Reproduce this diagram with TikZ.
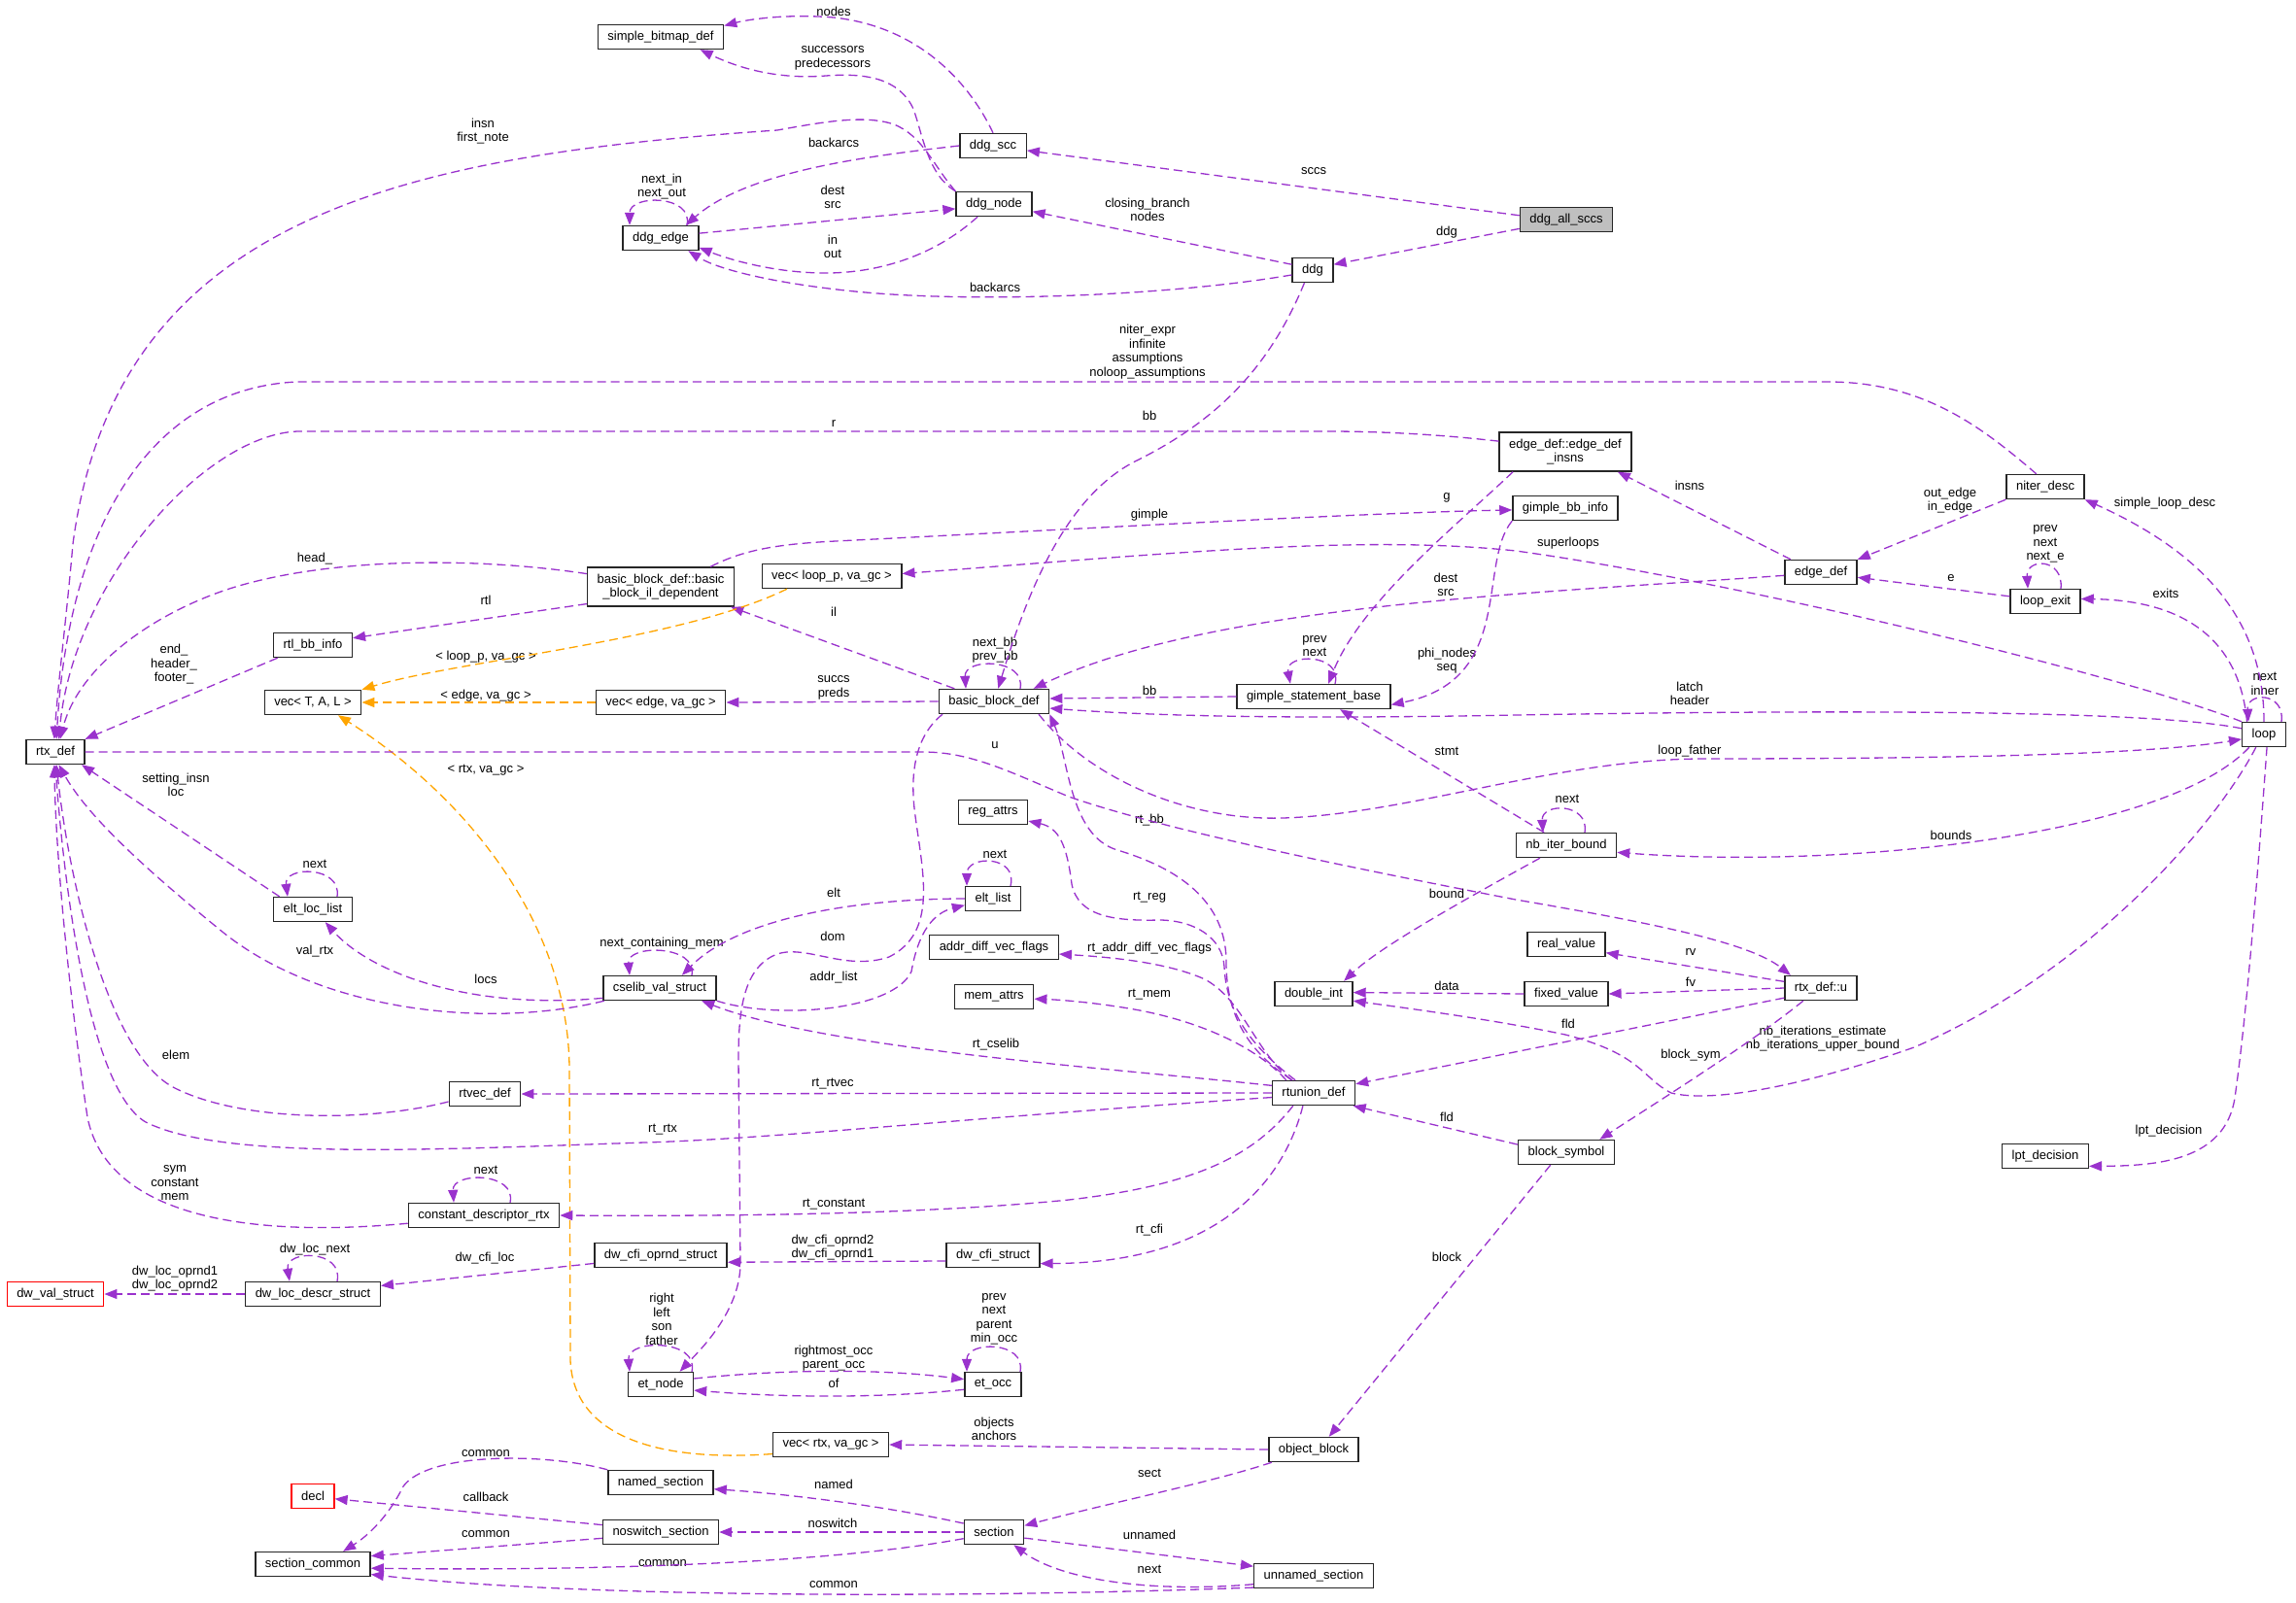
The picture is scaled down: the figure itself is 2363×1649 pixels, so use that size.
\documentclass[tikz,border=0pt]{standalone}
\usepackage{fontspec}
\setmainfont{Liberation Sans}
\usetikzlibrary{arrows.meta}
\definecolor{relc}{HTML}{9A32CD}
\definecolor{tmplc}{HTML}{FFA500}
\definecolor{boxline}{HTML}{262626}
\definecolor{mainfill}{HTML}{BFBFBF}
\definecolor{extline}{HTML}{FF0000}
\begin{document}
\begin{tikzpicture}[x=1pt, y=-1pt, font=\fontsize{13}{14.5}\selectfont,
  cls/.style={draw=boxline, line width=1.4pt, fill=white, minimum height=25pt, inner xsep=10pt, inner ysep=3pt},
  clsmain/.style={cls, fill=mainfill},
  clsext/.style={cls, draw=extline},
  lbl/.style={inner sep=0pt, align=center},
  rel/.style={relc, line width=1.3pt, dash pattern=on 9pt off 5pt, -{Triangle[length=13pt,width=10pt]}},
  tmpl/.style={rel, tmplc}]
  \fill[white] (0,0) rectangle (2363,1649);
  \useasboundingbox (0,0) rectangle (2363,1649);
  \foreach \nm/\x/\y/\txt in {
    sbd/680/38/simple\_bitmap\_def, ddgscc/1022/150/ddg\_scc, ddgnode/1023/210/ddg\_node,
    ddgedge/680/245/ddg\_edge, ddg/1351/278/ddg, gbbinfo/1611/523/gimple\_bb\_info,
    niter/2105/501/niter\_desc, veclp/856/593/{vec< loop\_p, va\_gc >}, rtlbb/322/664/rtl\_bb\_info,
    vectal/322/723/{vec< T, A, L >}, vecedge/680/723/{vec< edge, va\_gc >}, rtx/57/774/rtx\_def,
    bbdef/1023/722/basic\_block\_def, gsb/1352/717/gimple\_statement\_base, edgedef/1874/589/edge\_def,
    lexit/2105/619/loop\_exit, loop/2330/756/loop, nbib/1612/870/nb\_iter\_bound,
    eltloc/322/936/elt\_loc\_list, cselib/679/1017/cselib\_val\_struct, regattrs/1022/836/reg\_attrs,
    eltlist/1022/925/elt\_list, adv/1023/975/addr\_diff\_vec\_flags, memattrs/1023/1026/mem\_attrs,
    dint/1352/1023/double\_int, realv/1612/972/real\_value, fixedv/1612/1023/fixed\_value,
    rtxu/1874/1017/rtx\_def::u, rtvec/499/1126/rtvec\_def, rtunion/1352/1125/rtunion\_def,
    blocksym/1612/1186/block\_symbol, lpt/2105/1190/lpt\_decision, cdr/498/1251/constant\_descriptor\_rtx,
    cfioprnd/680/1292/dw\_cfi\_oprnd\_struct, cfistruct/1022/1292/dw\_cfi\_struct,
    dwloc/322/1332/dw\_loc\_descr\_struct, etnode/680/1425/et\_node, etocc/1022/1425/et\_occ,
    vecrtx/855/1487/{vec< rtx, va\_gc >}, objblock/1352/1492/object\_block,
    namedsec/680/1526/named\_section, noswsec/680/1577/noswitch\_section, section/1023/1577/section,
    seccommon/322/1610/section\_common, unnamedsec/1352/1622/unnamed\_section}
    \node[cls] (\nm) at (\x,\y) {\txt};
  \node[clsmain] (allsccs) at (1612,226) {ddg\_all\_sccs};
  \node[clsext] (dwval) at (57,1332) {dw\_val\_struct};
  \node[clsext] (decl) at (322,1540) {decl};
  \node[cls, minimum height=40pt, align=center] (edgeinsns) at (1611,465) {edge\_def::edge\_def\\\_insns};
  \node[cls, minimum height=40pt, align=center] (bbil) at (680,604) {basic\_block\_def::basic\\\_block\_il\_dependent};
  \foreach \nm/\x/\y/\txt in {
    lsccs/1352/176/sccs, lddg/1489/239/ddg, lnodes/858/12/nodes, lsuccpred/857/60/{successors\\predecessors},
    linsn/497/135/{insn\\first\_note}, lbackscc/858/147/backarcs, lnextin/681/192/{next\_in\\next\_out},
    ldestsrc/857/203/{dest\\src}, linout/857/254/{in\\out}, lbackddg/1024/296/backarcs,
    lclosing/1181/216/{closing\_branch\\nodes}, lniter/1181/362/{niter\_expr\\infinite\\assumptions\\noloop\_assumptions},
    lbbddg/1183/428/bb, lr/858/436/r, lgimple/1183/530/gimple, lg/1489/512/g, linsns/1739/500/insns,
    loutedge/2007/515/{out\_edge\\in\_edge}, lsld/2228/518/simple\_loop\_desc, lexitloop/2105/560/{prev\\next\\next\_e},
    lsuper/1614/559/superloops, lhead/324/575/head\_, lrtl/500/618/rtl, lend/179/684/{end\_\\header\_\\footer\_},
    lveclp/500/676/{< loop\_p, va\_gc >}, lvecedge/500/716/{< edge, va\_gc >}, lvecrtx/500/793/{< rtx, va\_gc >},
    lsetting/181/808/{setting\_insn\\loc}, leltlocnext/324/889/next, lvalrtx/324/979/val\_rtx, llocs/500/1008/locs,
    lncm/681/971/next\_containing\_mem, lelem/181/1086/elem, lil/858/630/il, lnextbb/1024/669/{next\_bb\\prev\_bb},
    lsuccs/858/708/{succs\\preds}, lbbgsb/1183/711/bb, lgsbloop/1353/665/{prev\\next}, ldestsrc2/1488/602/{dest\\src},
    lphi/1489/680/{phi\_nodes\\seq}, lu/1024/767/u, lstmt/1489/773/stmt, lrtbb/1183/844/rt\_bb, leltnext/1024/879/next,
    lelt/858/919/elt, lrtreg/1183/924/rt\_reg, lbound/1489/920/bound, ldom/857/964/dom,
    lradv/1183/976/rt\_addr\_diff\_vec\_flags, laddr/858/1006/addr\_list, ldata/1489/1015/data, lrtmem/1183/1024/rt\_mem,
    lrtcselib/1025/1075/rt\_cselib, le/2008/595/e, lexits/2229/611/exits, lnextinner/2331/704/{next\\inner},
    llatch/1739/714/{latch\\header}, lloopfather/1739/773/loop\_father, lnbnext/1613/822/next, lbounds/2008/860/bounds,
    lrv/1740/980/rv, lfv/1740/1011/fv, lfld/1614/1054/fld,
    lnbit/1876/1069/{nb\_iterations\_estimate\\nb\_iterations\_upper\_bound}, lblocksym/1740/1086/block\_sym,
    lrtrtvec/857/1116/rt\_rtvec, lrtrtx/682/1163/rt\_rtx, lsym/180/1218/{sym\\constant\\mem}, lcdrnext/500/1204/next,
    lfldb/1489/1150/fld, lrtconst/858/1240/rt\_constant, lrtcfi/1183/1266/rt\_cfi,
    lcfioprnd/857/1284/{dw\_cfi\_oprnd2\\dw\_cfi\_oprnd1}, lblock/1489/1294/block, llpt/2232/1164/lpt\_decision,
    ldwlocnext/324/1286/dw\_loc\_next, lcfiloc/499/1295/dw\_cfi\_loc, ldwoprnd/180/1316/{dw\_loc\_oprnd1\\dw\_loc\_oprnd2},
    letnode/681/1358/{right\\left\\son\\father}, letocc/1023/1358/{prev\\next\\parent\\min\_occ},
    lrightmost/858/1398/{rightmost\_occ\\parent\_occ}, lof/858/1424/of, lobjects/1023/1471/{objects\\anchors},
    lsect/1183/1516/sect, lnamed/858/1528/named, lnoswitch/857/1568/noswitch, lunnamed/1183/1580/unnamed,
    lnextsec/1183/1615/next, lcommona/500/1496/common, lcallback/500/1541/callback, lcommonb/500/1579/common,
    lcommonc/682/1609/common, lcommond/858/1631/common}
    \node[lbl] (\nm) at (\x,\y) {\txt};

  \draw[rel] (allsccs.175) -- (ddgscc.352);
  \draw[rel] (allsccs.191) -- (ddg.15);
  \draw[rel] (ddgscc.north) .. controls (1000,90) and (950,28) .. (858,18) .. controls (810,14) and (770,20) .. (sbd.10);
  \draw[rel] (ddgnode.north west) .. controls (955,180) and (950,140) .. (940,112) .. controls (925,80) and (890,75) .. (850,78) .. controls (800,82) and (760,70) .. (sbd.342);
  \draw[rel] (ddgnode.north west) .. controls (960,170) and (950,140) .. (920,128) .. controls (890,118) and (850,125) .. (800,134) .. controls (420,160) and (120,220) .. (75,560) .. controls (68,640) and (60,700) .. (rtx.95);
  \draw[rel] (ddgscc.west) .. controls (900,160) and (770,175) .. (ddgedge.27);
  \draw[rel] ([xshift=27pt]ddgedge.north) .. controls (714,200) and (648,200) .. ([xshift=-32pt]ddgedge.north);
  \draw[rel] (ddgedge.7) -- (ddgnode.187);
  \draw[rel] (ddgnode.218) .. controls (960,265) and (900,282) .. (845,281) .. controls (790,280) and (745,265) .. (ddgedge.346);
  \draw[rel] (ddg.193) .. controls (1200,305) and (1000,312) .. (880,300) .. controls (800,292) and (740,278) .. (ddgedge.335);
  \draw[rel] (ddg.165) -- (ddgnode.349);
  \draw[rel] (ddg.237) .. controls (1310,370) and (1260,430) .. (1168,475) .. controls (1100,510) and (1060,600) .. (bbdef.72);

  \draw[rel] (niter.125) .. controls (2040,440) and (1980,393) .. (1881,393) -- (306,393) .. controls (150,400) and (70,550) .. (rtx.85);
  \draw[rel] (edgeinsns.171) .. controls (1480,447) and (1420,444) .. (1367,444) -- (306,444) .. controls (210,448) and (75,600) .. (rtx.75);
  \draw[rel] (bbil.170) .. controls (480,572) and (330,575) .. (233,607) .. controls (150,635) and (80,690) .. (rtx.70);
  \draw[rel] (rtlbb.200) -- (rtx.north east);
  \draw[rel] (bbil.193) -- (rtlbb.10);
  \draw[rel] (bbil.22) .. controls (765,566) and (800,560) .. (860,557) .. controls (1100,545) and (1400,528) .. (gbbinfo.182);
  \draw[rel] (bbdef.162) -- (bbil.344);

  \draw[tmpl] (veclp.196) .. controls (700,660) and (470,680) .. (vectal.north east);
  \draw[tmpl] (vecedge.west) -- (vectal.east);
  \draw[tmpl] (vecrtx.189) .. controls (680,1505) and (590,1480) .. (587,1400) -- (586,1100) .. controls (585,950) and (480,820) .. (vectal.333);

  \draw[rel] (bbdef.west) -- (vecedge.east);
  \draw[rel] (loop.north west) .. controls (2200,700) and (1800,600) .. (1560,567) .. controls (1400,550) and (1200,570) .. (veclp.2);
  \draw[rel] (gsb.west) -- (bbdef.3);
  \draw[rel] ([xshift=22pt]gsb.north) .. controls (1382,672) and (1322,672) .. ([xshift=-24pt]gsb.north);
  \draw[rel] (edgeinsns.201) .. controls (1500,540) and (1400,620) .. (gsb.41);
  \draw[rel] (gbbinfo.south west) .. controls (1520,580) and (1560,700) .. (gsb.354);
  \draw[rel] (edgedef.185) .. controls (1600,610) and (1250,620) .. (bbdef.18);
  \draw[rel] (edgedef.157) -- (edgeinsns.339);
  \draw[rel] (niter.south west) -- (edgedef.north east);
  \draw[rel] (loop.north) .. controls (2330,640) and (2270,570) .. (niter.south east);
  \draw[rel] (lexit.172) -- (edgedef.352);
  \draw[rel] ([xshift=16pt]lexit.north) .. controls (2124,574) and (2085,574) .. ([xshift=-18pt]lexit.north);
  \draw[rel] (loop.143) .. controls (2305,660) and (2250,618) .. (lexit.4);
  \draw[rel] ([xshift=18pt]loop.north) .. controls (2352,712) and (2312,712) .. ([xshift=-16pt]loop.north);
  \draw[rel] (loop.165) .. controls (2200,728) and (1800,732) .. (1560,736) .. controls (1350,740) and (1200,738) .. (bbdef.353);
  \draw[rel] (bbdef.344) .. controls (1120,800) and (1220,845) .. (1320,842) .. controls (1450,838) and (1600,782) .. (1750,781) .. controls (2050,781) and (2220,775) .. (loop.192);
  \draw[rel] (rtx.east) -- (950,774) .. controls (1000,774) and (1040,795) .. (1100,820) .. controls (1200,855) and (1400,895) .. (1560,926) .. controls (1700,950) and (1800,970) .. (rtxu.157);
  \draw[rel] (loop.221) .. controls (2230,860) and (1900,895) .. (nbib.352);
  \draw[rel] (nbib.150) -- (gsb.334);
  \draw[rel] ([xshift=19pt]nbib.north) .. controls (1636,826) and (1586,826) .. ([xshift=-24pt]nbib.north);
  \draw[rel] (nbib.206) .. controls (1500,930) and (1420,975) .. (dint.23);
  \draw[rel] (rtxu.170) -- (realv.348);
  \draw[rel] (rtxu.west) -- (fixedv.east);
  \draw[rel] (fixedv.west) -- (dint.2);
  \draw[rel] (loop.238) .. controls (2280,850) and (2150,1000) .. (1970,1078) .. controls (1850,1120) and (1760,1135) .. (1720,1125) .. controls (1690,1110) and (1690,1085) .. (1611,1065) .. controls (1540,1050) and (1450,1038) .. (dint.350);
  \draw[rel] (rtxu.216) .. controls (1800,1075) and (1720,1125) .. (blocksym.21.5);
  \draw[rel] (rtxu.195) -- (rtunion.12);
  \draw[rel] (blocksym.171) -- (rtunion.342);
  \draw[rel] (blocksym.219) -- (objblock.40);
  \draw[rel] (loop.283) .. controls (2320,950) and (2310,1060) .. (2300,1130) .. controls (2290,1195) and (2220,1200) .. (lpt.347);

  \draw[rel] (rtunion.149) .. controls (1280,1080) and (1262,1040) .. (1262,990) .. controls (1262,920) and (1200,890) .. (1150,875) .. controls (1100,860) and (1100,780) .. (bbdef.347);
  \draw[rel] (rtunion.145) .. controls (1285,1075) and (1262,1040) .. (1260,995) .. controls (1258,965) and (1230,948) .. (1195,947) .. controls (1150,948) and (1110,945) .. (1103,910) .. controls (1098,870) and (1090,852) .. (regattrs.346);
  \draw[rel] (rtunion.150) .. controls (1290,1080) and (1280,1030) .. (1240,1008) .. controls (1200,990) and (1140,985) .. (adv.354);
  \draw[rel] (rtunion.155) .. controls (1300,1085) and (1250,1055) .. (1173,1040) .. controls (1130,1032) and (1090,1029) .. (memattrs.357);
  \draw[rel] (rtunion.170) .. controls (1150,1100) and (850,1080) .. (cselib.343);
  \draw[rel] (rtunion.west) -- (rtvec.east);
  \draw[rel] (rtunion.186) .. controls (1000,1150) and (800,1172) .. (663,1176) .. controls (450,1183) and (230,1195) .. (150,1155) .. controls (90,1120) and (65,900) .. (rtx.270);
  \draw[rel] (rtunion.212) .. controls (1290,1190) and (1230,1220) .. (1100,1235) .. controls (950,1250) and (750,1252) .. (cdr.east);
  \draw[rel] (rtunion.230) .. controls (1320,1220) and (1250,1300) .. (cfistruct.350);

  \draw[rel] (rtvec.192) .. controls (380,1155) and (250,1155) .. (180,1120) .. controls (110,1085) and (70,900) .. (rtx.275);
  \draw[rel] (cdr.186) .. controls (250,1275) and (110,1250) .. (90,1150) .. controls (75,1050) and (58,900) .. (rtx.265);
  \draw[rel] (cselib.193.5) .. controls (500,1060) and (330,1040) .. (230,960) .. controls (150,895) and (90,840) .. (rtx.285);
  \draw[rel] (eltloc.159) -- (rtx.334);
  \draw[rel] ([xshift=25pt]eltloc.north) .. controls (352,891) and (292,891) .. ([xshift=-26pt]eltloc.north);
  \draw[rel] (cselib.190) .. controls (480,1040) and (380,1000) .. (eltloc.314);
  \draw[rel] ([xshift=33pt]cselib.north) .. controls (718,972) and (645,972) .. ([xshift=-31pt]cselib.north);
  \draw[rel] (eltlist.west) .. controls (880,925) and (760,945) .. (cselib.30);
  \draw[rel] (cselib.south east) .. controls (800,1050) and (920,1040) .. (938,1000) .. controls (945,960) and (960,940) .. (eltlist.193);
  \draw[rel] ([xshift=18pt]eltlist.north) .. controls (1048,880) and (995,880) .. ([xshift=-27pt]eltlist.north);
  \draw[rel] (bbdef.194) .. controls (945,755) and (935,790) .. (942,840) .. controls (950,900) and (965,960) .. (915,985) .. controls (870,1000) and (830,972) .. (800,982) .. controls (765,995) and (760,1040) .. (760,1090) -- (762,1300) .. controls (762,1350) and (720,1390) .. (etnode.34);
  \draw[rel] ([xshift=27pt]bbdef.north) .. controls (1056,677) and (992,677) .. ([xshift=-29pt]bbdef.north);

  \draw[rel] ([xshift=32pt]etnode.north) .. controls (720,1378) and (645,1378) .. ([xshift=-32pt]etnode.north);
  \draw[rel] (etnode.10) .. controls (800,1410) and (900,1408) .. (etocc.170);
  \draw[rel] (etocc.190) .. controls (900,1440) and (800,1438) .. (etnode.350);
  \draw[rel] ([xshift=28pt]etocc.north) .. controls (1056,1380) and (995,1380) .. ([xshift=-27pt]etocc.north);
  \draw[rel] ([xshift=27pt]cdr.north) .. controls (532,1206) and (465,1206) .. ([xshift=-31pt]cdr.north);
  \draw[rel] (cfistruct.187) -- (cfioprnd.354);
  \draw[rel] (cfioprnd.187) -- (dwloc.7);
  \draw[rel] ([xshift=25pt]dwloc.north) .. controls (354,1286) and (293,1286) .. ([xshift=-24pt]dwloc.north);
  \draw[rel] (dwloc.west) -- (dwval.east);
  \draw[rel] (objblock.west) -- (vecrtx.east);
  \draw[rel] (objblock.197) .. controls (1250,1525) and (1150,1545) .. (section.12);
  \draw[rel] (section.164) .. controls (900,1548) and (800,1537) .. (namedsec.353);
  \draw[rel] (section.west) -- (noswsec.east);
  \draw[rel] (section.192) .. controls (850,1610) and (600,1617) .. (seccommon.356);
  \draw[rel] (section.349) -- (unnamedsec.171);
  \draw[rel] (unnamedsec.188) .. controls (1180,1640) and (1090,1625) .. (section.327);
  \draw[rel] (unnamedsec.191) .. controls (1000,1645) and (600,1645) .. (seccommon.350);
  \draw[rel] (namedsec.north west) .. controls (560,1495) and (440,1495) .. (415,1530) .. controls (400,1560) and (380,1580) .. (seccommon.23.4);
  \draw[rel] (noswsec.173) -- (decl.353);
  \draw[rel] (noswsec.186) -- (seccommon.8);
\end{tikzpicture}
\end{document}
